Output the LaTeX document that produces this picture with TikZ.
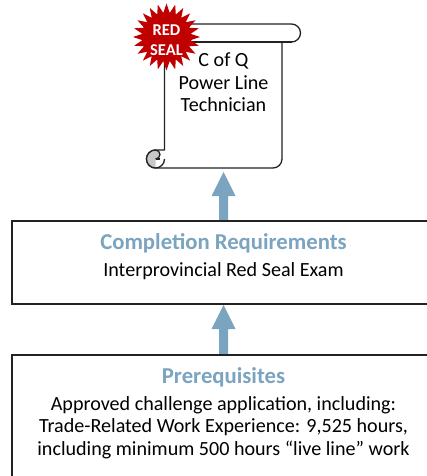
\documentclass[tikz,border=0pt]{standalone}
\usepackage{fontspec}
\setmainfont{Carlito}
\usetikzlibrary{shapes.geometric}
\definecolor{hdr}{HTML}{7BA4C0}
\definecolor{sealred}{HTML}{C00000}
\definecolor{curl}{HTML}{C8C8C8}
\definecolor{ln}{HTML}{222222}
\tikzset{
  box/.style={draw=ln,line width=1.2pt,fill=white},
  scrollline/.style={draw=ln,line width=1.3pt,line join=round},
  arrowshape/.style={fill=hdr,draw=none},
  body/.style={font=\fontsize{20.1}{22.4}\selectfont,align=center,text=black,inner sep=0},
  head/.style={font=\fontsize{22.7}{24}\selectfont\bfseries,text=hdr,inner sep=0},
  seal/.style={star,star points=24,star point ratio=1.38,minimum size=67pt,inner sep=0,fill=sealred,draw=none},
  sealtext/.style={font=\fontsize{16.5}{20}\selectfont\bfseries,text=white,align=center,inner sep=0}
}
\begin{document}
\begin{tikzpicture}[x=1pt,y=-1pt]
\useasboundingbox (0,0) rectangle (427,476);
\fill[white] (0,0) rectangle (427,476);
% arrows
\fill[arrowshape] (223.5,172) -- (235.5,196) -- (228,196) -- (228,222) -- (219,222) -- (219,196) -- (211.5,196) -- cycle;
\fill[arrowshape] (223.5,305) -- (235.5,329) -- (228,329) -- (228,356) -- (219,356) -- (219,329) -- (211.5,329) -- cycle;
% scroll
\path[scrollline,fill=white] (164.5,33) arc[start angle=180,end angle=270,radius=9] -- (291.5,24) arc[start angle=-90,end angle=90,radius=9] -- (282,42) -- (282,159) arc[start angle=0,end angle=90,radius=9] -- (155.5,168) arc[start angle=90,end angle=270,radius=9] -- (164.5,150) -- cycle;
\draw[scrollline] (173.5,42) -- (291.5,42);
\path[scrollline,fill=curl] (155.5,168) arc[start angle=90,end angle=270,radius=9] -- (155.5,150) arc[start angle=-90,end angle=90,radius=4.5] -- (155.5,159);
\draw[scrollline] (155.5,168) arc[start angle=90,end angle=0,radius=9];
\draw[scrollline] (155.5,159) -- (160,159);
\node[body] (cert) at (223.5,82.5) {C of Q\\Power Line\\Technician};
\node[seal] (sealstar) at (166.5,37) {};
\node[sealtext] (sealtxt) at (166.5,40) {RED\\SEAL};
% boxes
\draw[box] (12,221) rectangle (440,304);
\node[head] (req) at (223.5,243) {Completion Requirements};
\node[body] (exam) at (223.5,271) {Interprovincial Red Seal Exam};
\draw[box] (12,355) rectangle (440,490);
\node[head] (pre) at (223.5,377) {Prerequisites};
\node[body] (app) at (223.5,427.5) {Approved challenge application, including:\\Trade-Related Work Experience: 9,525 hours,\\including minimum 500 hours “live line” work};
\end{tikzpicture}
\end{document}
